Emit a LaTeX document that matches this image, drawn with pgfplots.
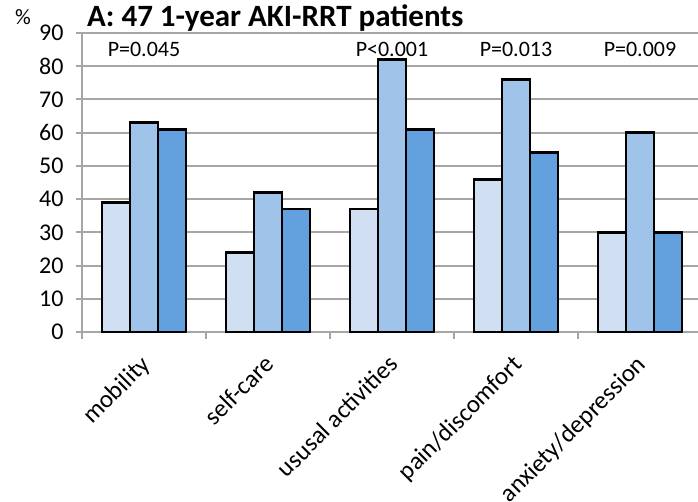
\documentclass[border=0pt]{standalone}
\usepackage{fontspec}
\setmainfont{Carlito}
\usepackage{pgfplots}
\pgfplotsset{compat=1.18}
\definecolor{cLight}{HTML}{D0E0F2}
\definecolor{cMid}{HTML}{A0C3EA}
\definecolor{cDark}{HTML}{63A0DE}
\definecolor{gridgray}{HTML}{A6A6A6}
\begin{document}
\begin{tikzpicture}
\useasboundingbox (-82pt,-169pt) rectangle (616pt,332pt);
\begin{axis}[
  at={(0,0)}, anchor=south west,
  scale only axis,
  width=620pt, height=299pt,
  xmin=-0.5, xmax=4.5,
  ymin=0, ymax=90,
  ybar=0pt, bar width=28pt,
  axis x line*=bottom, axis y line*=left,
  axis line style={gridgray, line width=2pt, -},
  ytick={0,10,...,90},
  ymajorgrids,
  grid style={gridgray, line width=2pt},
  y tick style={gridgray, line width=2pt},
  major tick length=6pt,
  tick align=outside,
  /pgf/number format/assume math mode=true,
  yticklabel style={font=\fontsize{24}{26}\selectfont, xshift=-9pt},
  xtick={0,...,4},
  xticklabels={mobility, self-care, ususal activities, pain/discomfort, anxiety/depression},
  x tick style={draw=none},
  xticklabel style={font=\fontsize{25}{27}\selectfont, xshift=-5pt, yshift=-14pt, rotate=45, anchor=north east, inner sep=1pt},
  extra x ticks={-0.5,0.5,1.5,2.5,3.5},
  extra x tick labels={},
  extra x tick style={x tick style={gridgray, line width=2pt, draw=gridgray}, major tick length=7pt, grid=none},
  every axis plot/.append style={draw=black, line width=2.8pt},
  clip=false,
]
\addplot[fill=cLight] coordinates {(0,39) (1,24) (2,37) (3,46) (4,30)};
\addplot[fill=cMid] coordinates {(0,63) (1,42) (2,82) (3,76) (4,60)};
\addplot[fill=cDark] coordinates {(0,61) (1,37) (2,61) (3,54) (4,30)};
\node[font=\fontsize{22}{24}\selectfont, anchor=center] at (axis cs:0,85) {P=0.045};
\node[font=\fontsize{22}{24}\selectfont, anchor=center] at (axis cs:2,85) {P<0.001};
\node[font=\fontsize{22}{24}\selectfont, anchor=center] at (axis cs:3,85) {P=0.013};
\node[font=\fontsize{22}{24}\selectfont, anchor=center] at (axis cs:4,85) {P=0.009};
\end{axis}
\node[anchor=base west, font=\bfseries\fontsize{31}{33}\selectfont, inner sep=0pt] at (5pt,305pt) {A: 47 1-year AKI-RRT patients};
\node[anchor=base west, font=\fontsize{22}{24}\selectfont, inner sep=0pt] at (-67pt,307pt) {\%};
\end{tikzpicture}
\end{document}
